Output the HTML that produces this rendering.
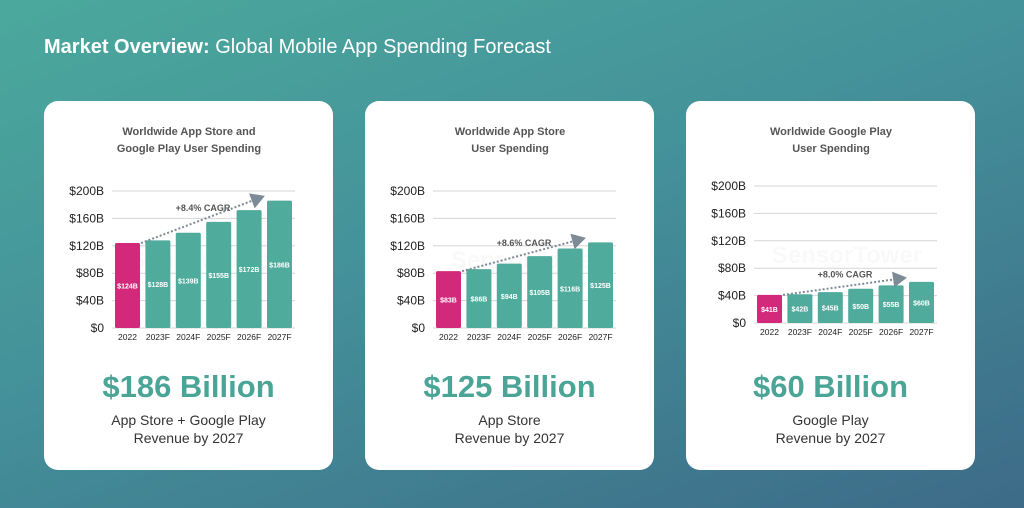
<!DOCTYPE html>
<html><head><meta charset="utf-8"><style>
body{margin:0;width:1024px;height:508px;overflow:hidden;font-family:"Liberation Sans",sans-serif;}
.bg{position:absolute;left:0;top:0;width:1024px;height:508px;background:linear-gradient(160deg,#4ba99c 0%,#44919a 45%,#3d6b88 100%);}
.card{position:absolute;top:101px;width:289px;height:369px;background:#fff;border-radius:14px;}
.t{position:absolute;left:44px;top:36px;color:#fff;font-size:20px;}
.big{position:absolute;width:289px;text-align:center;top:369px;font-size:31px;font-weight:bold;color:#4aa597;}
.sub{position:absolute;width:289px;text-align:center;top:411px;font-size:14px;line-height:18px;color:#333;}
</style></head><body>
<div class="bg"></div>
<div class="t"><b>Market Overview:</b> Global Mobile App Spending Forecast</div>
<div class="card" style="left:44px"></div>
<div class="card" style="left:365px"></div>
<div class="card" style="left:686px"></div>
<div class="big" style="left:44px">$186 Billion</div>
<div class="big" style="left:365px">$125 Billion</div>
<div class="big" style="left:686px">$60 Billion</div>
<div class="sub" style="left:44px">App Store + Google Play<br>Revenue by 2027</div>
<div class="sub" style="left:365px">App Store<br>Revenue by 2027</div>
<div class="sub" style="left:686px">Google Play<br>Revenue by 2027</div>
<svg width="1024" height="508" style="position:absolute;left:0;top:0" font-family="Liberation Sans, sans-serif">
<defs><marker id="ar" markerWidth="8" markerHeight="8" refX="6" refY="4" orient="auto"><path d="M0,0 L7,4 L0,8 Z" fill="#7d8b96"/></marker></defs>
</svg>
<script>
const svg=document.querySelector('svg');
const ns='http://www.w3.org/2000/svg';
function el(t,a,txt){const e=document.createElementNS(ns,t);for(const k in a)e.setAttribute(k,a[k]);if(txt!==undefined)e.textContent=txt;svg.appendChild(e);return e;}
const charts=[
 {dx:0,dy:0,title:['Worldwide App Store and','Google Play User Spending'],v:[124,128,139,155,172,186],cagr:'+8.4% CAGR'},
 {dx:321,dy:0,title:['Worldwide App Store','User Spending'],v:[83,86,94,105,116,125],cagr:'+8.6% CAGR'},
 {dx:642,dy:-5,title:['Worldwide Google Play','User Spending'],v:[41,42,45,50,55,60],cagr:'+8.0% CAGR'}];
const yrs=['2022','2023F','2024F','2025F','2026F','2027F'];
charts.forEach((c,ci)=>{
 const base=328+c.dy, sc=137/200, x0=115+c.dx;
 el('text',{x:189+c.dx,y:135,'text-anchor':'middle','font-size':11,'font-weight':'bold',fill:'#555'},c.title[0]);
 el('text',{x:189+c.dx,y:152,'text-anchor':'middle','font-size':11,'font-weight':'bold',fill:'#555'},c.title[1]);
 for(let i=0;i<=5;i++){const y=base-i*40*sc;
  el('line',{x1:112+c.dx,x2:295+c.dx,y1:y,y2:y,stroke:'#d6d6d6','stroke-width':1});
  el('text',{x:104+c.dx,y:y+4,'text-anchor':'end','font-size':12,fill:'#222'},'$'+(i*40)+(i?'B':''));}
 el('text',{x:205+c.dx,y:base-60,'text-anchor':'middle','font-size':24,'font-weight':'bold',fill:'#000','fill-opacity':0.025},'SensorTower');
 c.v.forEach((v,i)=>{const x=x0+i*30.4,h=v*sc;
  el('rect',{x:x,y:base-h,width:25,height:h,rx:1.5,fill:i?'#4fab9b':'#d2297a'});
  el('text',{x:x+12.5,y:base-h/2+3,'text-anchor':'middle','font-size':7,'font-weight':'bold',fill:'#fff'},'$'+v+'B');
  el('text',{x:x+12.5,y:base+12,'text-anchor':'middle','font-size':8.5,fill:'#222'},yrs[i]);});
 const y1=base-c.v[0]*sc, y2=base-c.v[5]*sc-4;
 el('line',{x1:x0+26,y1:y1,x2:x0+148,y2:y2,stroke:'#7d8b96','stroke-width':2,'stroke-dasharray':'2,2','marker-end':'url(#ar)'});
 el('text',{x:x0+88,y:(y1+y2)/2-9,'text-anchor':'middle','font-size':9,'font-weight':'bold',fill:'#555'},c.cagr);
});
</script>
</body></html>
